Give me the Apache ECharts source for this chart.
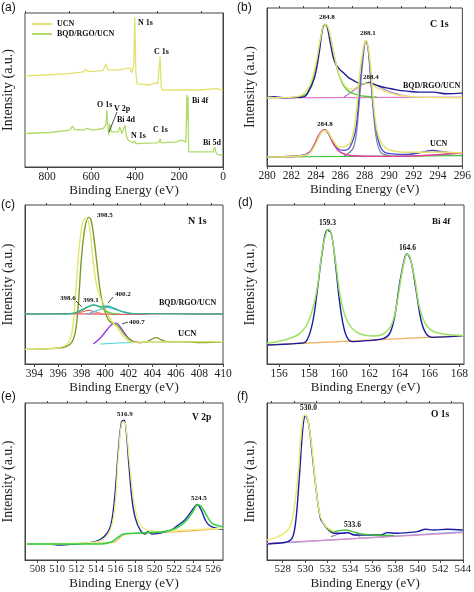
<!DOCTYPE html>
<html><head><meta charset="utf-8">
<script src="https://cdn.jsdelivr.net/npm/echarts@6/dist/echarts.min.js"></script>
<style>html,body{margin:0;padding:0;background:#fff;}#c{width:474px;height:592px;}</style>
</head><body><div id="c"></div>
<script>
// ---------- tick labels ----------
const aTicks = [800,600,400,200,0];
const aMinor = [900,700,500,300,100];
const bTicks = [280,282,284,286,288,290,292,294,296];
const bMinor = [281,283,285,287,289,291,293,295];
const cTicks = [394,396,398,400,402,404,406,408,410];
const cMinor = [395,397,399,401,403,405,407,409];
const dTicks = [156,158,160,162,164,166,168];
const dMinor = [157,159,161,163,165,167];
const eTicks = [508,510,512,514,516,518,520,522,524,526];
const eMinor = [509,511,513,515,517,519,521,523,525];
const fTicks = [528,530,532,534,536,538,540,542,544];
const fMinor = [527,529,531,533,535,537,539,541,543];

// ---------- (a) survey ----------
const a_UCN = [[900,272],[832,274],[711,278],[635,284],[623,292],[613,285],[545,288],[532,308],[523,290],[469,290],[424,296],[414,282],[405,310],[401,448],[396,280],[390,248],[333,245],[306,252],[296,248],[290,300],[286,330],[281,238],[275,230],[106,230],[30,234],[0,230]];
const a_BQD = [[900,100],[787,103],[696,110],[684,122],[675,112],[635,110],[620,115],[590,110],[545,115],[532,125],[528,170],[523,120],[519,95],[514,130],[508,105],[476,105],[469,120],[465,125],[460,100],[451,95],[445,125],[440,95],[431,80],[408,72],[402,78],[396,70],[303,72],[290,75],[286,85],[281,72],[212,75],[189,80],[169,75],[166,150],[164.5,215],[163,140],[161,190],[159,210],[157.5,120],[156,45],[106,45],[45,45],[38,60],[33,45],[27,38],[0,35]];

// ---------- (b) C 1s ----------
const b_upRaw = [[280,206],[280.6,208],[281.3,205],[282.2,206],[282.9,207],[283.3,217],[283.9,267],[284.3,347],[284.5,402],[284.7,425],[284.9,422],[285.2,367],[285.5,317],[285.9,292],[286.3,279],[286.7,265],[287.1,257],[287.5,249],[287.9,247],[288.3,251],[288.7,247],[289.3,239],[289.8,235],[290.6,229],[291.5,225],[292.5,222],[293.6,222],[294.7,217],[296,219]];
const b_upFit = [[280,205],[282.2,207],[282.9,215],[283.5,242],[284.0,307],[284.4,387],[284.7,427],[285.0,417],[285.4,352],[285.8,287],[286.2,252],[286.7,232],[287.1,232],[287.5,242],[288.1,249],[288.5,247],[289.0,235],[289.8,222],[290.9,212],[292.5,207],[296,205]];
const b_upC1 = [[282.5,207],[283.3,220],[284.0,300],[284.4,385],[284.7,425],[285.0,415],[285.4,350],[285.8,285],[286.3,240],[286.8,222],[287.4,214],[288.2,209],[289,207]];
const b_upC2 = [[286.3,207],[287.1,227],[287.8,245],[288.3,249],[289.0,242],[289.8,227],[290.9,214],[292.0,207]];
const b_upBase = [[280,205],[296,207]];
const b_loRaw = [[280,27],[282.8,32],[283.5,42],[284.0,72],[284.4,99],[284.7,109],[285.0,99],[285.4,72],[285.8,52],[286.3,47],[286.8,57],[287.3,117],[287.6,247],[287.9,347],[288.1,377],[288.3,347],[288.6,217],[288.9,117],[289.3,57],[289.8,39],[291.5,35],[292.8,42],[293.5,47],[294.2,42],[295.0,39],[296,37]];
const b_loFit = [[280,27],[282.8,31],[283.5,39],[284.0,67],[284.4,99],[284.7,107],[285.0,102],[285.4,77],[285.9,57],[286.4,59],[286.9,77],[287.3,157],[287.6,277],[287.9,357],[288.1,377],[288.4,327],[288.7,197],[289.0,107],[289.4,67],[290.0,49],[291.7,41],[293.5,42],[296,39]];
const b_loC1 = [[281.4,27],[283.3,35],[283.8,59],[284.3,97],[284.7,109],[285.0,102],[285.4,69],[286.0,42],[287.1,31],[289.5,29],[292.5,31],[296,39]];
const b_loC2 = [[286.3,29],[287.1,57],[287.5,167],[287.8,297],[288.1,375],[288.3,347],[288.6,217],[288.9,97],[289.3,42],[290.1,31]];
const b_loC3 = [[291.5,33],[292.8,42],[293.6,47],[294.4,43],[295.5,38]];
const b_loBase = [[280,27],[296,31]];

// ---------- (c) N 1s ----------
const c_ucnRaw = [[393.2,44],[395.3,46],[396.7,52],[397.2,67],[397.5,102],[397.73,182],[398.0,322],[398.3,412],[398.6,440],[398.8,432],[399.0,392],[399.3,302],[399.57,222],[399.86,172],[400.14,142],[400.42,127],[400.71,122],[400.99,117],[401.27,107],[401.56,92],[401.98,77],[402.41,67],[402.97,64],[403.54,67],[404.11,77],[404.4,79],[404.67,74],[405.24,67],[406.66,67],[408.07,64],[410,67]];
const c_ucnFit = [[393.2,44],[395.3,46],[396.7,57],[397.17,92],[397.45,192],[397.73,322],[398.02,412],[398.3,437],[398.58,427],[398.78,382],[399.0,302],[399.3,232],[399.57,202],[399.86,182],[400.14,157],[400.42,137],[400.71,122],[400.99,112],[401.27,97],[401.56,82],[401.98,70],[402.41,65],[403.54,66],[410,67]];
const c_ucnC2 = [[399.0,60],[399.57,77],[400.14,102],[400.42,114],[400.71,122],[400.99,122],[401.27,112],[401.56,97],[401.98,77],[402.41,67],[403.0,64]];
const c_ucnBase = [[399.6,60],[401,63],[404,66],[410,67]];
const c_bqdBase = [[393.2,150],[396,151],[399,150],[402,149],[405,151],[408,150],[410,150]];
const c_bqdFit = [[393.2,150],[396.74,150],[397.5,154],[398.0,162],[398.58,172],[399.0,177],[399.3,176],[399.57,172],[399.86,172],[400.14,174],[400.42,172],[400.99,164],[401.56,156],[402.41,151],[410,150]];
const c_bqdC1 = [[397.5,150],[398.0,156],[398.6,161],[399.2,156],[399.8,150]];
const c_bqdC2 = [[397.0,150],[397.73,156],[398.3,167],[399.0,177],[399.57,170],[400.14,157],[400.71,151],[401.3,150]];
const c_bqdC3 = [[398.5,150],[399.3,160],[400.2,170],[401.0,162],[401.8,154],[402.5,150]];

// ---------- (d) Bi 4f ----------
const d_fit = [[155.2,62],[156.36,72],[157.23,87],[157.78,112],[158.22,162],[158.55,232],[158.88,342],[159.16,397],[159.29,404],[159.47,392],[159.75,312],[160.04,212],[160.41,142],[160.85,107],[161.39,90],[162.27,84],[162.92,90],[163.47,117],[163.8,172],[164.13,262],[164.35,312],[164.5,329],[164.67,324],[165.0,262],[165.33,172],[165.72,122],[166.21,99],[167.08,89],[168.3,85]];
const d_raw = [[155.2,57],[157.23,62],[157.78,67],[158.22,122],[158.55,222],[158.88,337],[159.2,402],[159.47,392],[159.75,302],[160.04,182],[160.41,92],[160.85,67],[161.83,70],[162.92,76],[163.36,92],[163.69,142],[164.02,242],[164.35,317],[164.5,330],[164.78,307],[165.11,222],[165.44,132],[165.77,92],[166.21,80],[168.3,85]];
const d_base = [[155.2,57],[168.3,85]];

// ---------- (e) V 2p ----------
const e_raw = [[506.9,48],[509.2,48],[510.25,45],[511.9,48],[513.3,52],[514.3,60],[514.98,75],[515.5,105],[515.9,190],[516.3,340],[516.6,415],[516.87,420],[517.07,390],[517.34,290],[517.68,180],[518.02,125],[518.52,90],[519.03,78],[519.3,85],[519.7,78],[520.4,80],[521.06,85],[521.7,90],[522.4,105],[523.08,120],[523.6,140],[524.1,160],[524.37,167],[524.77,150],[525.28,115],[525.8,100],[527,92]];
const e_fit = [[506.9,48],[513.3,52],[515.0,68],[515.8,130],[516.3,320],[516.7,415],[517.0,410],[517.4,300],[517.8,190],[518.2,130],[518.7,100],[519.5,88],[520.5,85],[522,88],[524,92],[527,95]];
const e_green = [[506.9,48],[512,48],[514.5,48],[515.6,55],[516.2,68],[516.8,78],[517.5,80],[519,82],[520.5,84],[521.7,90],[522.5,100],[523.3,120],[523.9,145],[524.4,166],[524.8,160],[525.3,135],[525.9,110],[527,100]];
const e_base = [[506.9,48],[515.6,52],[516.8,75],[517.8,80],[520,83],[523,86],[527,95]];

// ---------- (f) O 1s ----------
const f_raw = [[526.7,48],[527.57,50],[528.46,55],[528.9,70],[529.2,130],[529.5,260],[529.8,400],[530.02,432],[530.29,410],[530.58,330],[530.97,210],[531.35,125],[531.7,105],[532.0,92],[532.6,80],[533.18,80],[533.77,82],[534.36,75],[535.54,75],[536.7,75],[537.3,82],[538.2,80],[539.08,82],[539.96,85],[540.7,92],[541.44,90],[542.62,92],[544,90]];
const f_fit = [[526.6,60],[527.57,70],[528.46,90],[528.9,130],[529.34,250],[529.64,380],[529.93,435],[530.2,425],[530.58,340],[530.97,210],[531.35,130],[531.85,100],[532.6,85]];
const f_green = [[531.85,100],[532.44,85],[533.03,88],[533.62,90],[534.2,85],[534.95,78],[536.1,75],[537.9,73]];
const f_pink = [[526.6,50],[544,82]];
const f_blue = [[528.5,52],[544,84]];
const f_comp = [[532.3,70],[533.0,78],[533.6,82],[534.2,78],[534.9,71]];

// ---------- layout ----------
const SERIF = 'Liberation Serif';
const grids = [
  {left:25, top:13, width:198, height:154},
  {left:267, top:8, width:197, height:158},
  {left:25, top:205, width:198, height:159},
  {left:267, top:205, width:197, height:159},
  {left:25, top:403, width:198, height:157},
  {left:267, top:403, width:198, height:157}
];
const xr = [
  {min:0, max:900, inverse:true, t:aTicks, m:aMinor, fs:11.5},
  {min:280, max:296, t:bTicks, m:bMinor, fs:11.5},
  {min:393.2, max:410, t:cTicks, m:cMinor, fs:11.5},
  {min:155.2, max:168.3, t:dTicks, m:dMinor, fs:11.5},
  {min:506.7, max:527, t:eTicks, m:eMinor, fs:10.5},
  {min:526.6, max:544.05, t:fTicks, m:fMinor, fs:11}
];
const ymax = [460, 475, 477, 477, 472, 470];

const xAxis = [], yAxis = [];
xr.forEach((r,i)=>{
  xAxis.push({type:'value', gridIndex:i, min:r.min, max:r.max, inverse:!!r.inverse,
    name:'Binding Energy (eV)', nameLocation:'middle', nameGap:17,
    nameTextStyle:{fontFamily:SERIF, fontSize:13, color:'#222'},
    axisLine:{show:true, lineStyle:{color:'#444', width:1}},
    splitLine:{show:false},
    axisTick:{show:true, customValues:r.t, length:3, lineStyle:{color:'#444'}},
    axisLabel:{customValues:r.t, fontFamily:SERIF, fontSize:r.fs, color:'#222', margin:4}});
});
xr.forEach((r,i)=>{
  xAxis.push({type:'value', gridIndex:i, min:r.min, max:r.max, inverse:!!r.inverse,
    axisLine:{show:false}, splitLine:{show:false}, axisLabel:{show:false},
    axisTick:{show:true, customValues:r.m, length:2, lineStyle:{color:'#444'}}});
});
ymax.forEach((m,i)=>{
  yAxis.push({type:'value', gridIndex:i, min:0, max:m,
    name:'Intensity (a.u.)', nameLocation:'middle', nameGap:10,
    nameTextStyle:{fontFamily:SERIF, fontSize:14, color:'#222'},
    axisLine:{show:true, lineStyle:{color:'#444'}}, axisTick:{show:false},
    axisLabel:{show:false}, splitLine:{show:false}});
});

const series = [];
function L(name, gi, data, color, w, smooth){
  series.push({type:'line', name:name, xAxisIndex:gi, yAxisIndex:gi, data:data,
    showSymbol:false, symbol:'none', smooth:smooth===undefined?0.35:smooth, silent:true,
    lineStyle:{color:color, width:w||1.3}, itemStyle:{color:color}, animation:false});
}
// (a)
L('UCN',0,a_UCN,'#e2e26e',1.3,false);
L('BQD/RGO/UCN',0,a_BQD,'#aedb6a',1.3,false);
// (b)
L('b1',1,b_upBase,'#e27ad8',1.2);
L('b2',1,b_upC2,'#b07ac8',1.2);
L('b3',1,b_upC1,'#55c83a',1.3);
L('b4',1,b_upRaw,'#1e1e96',1.4);
L('b5',1,b_upFit,'#e6e672',1.4);
L('b6',1,b_loBase,'#3cc23c',1.2);
L('b7',1,b_loC3,'#8466d0',1.2);
L('b8',1,b_loC2,'#7d86a8',1.3);
L('b9',1,b_loRaw,'#4646dc',1.3);
L('b10',1,b_loC1,'#e03c9c',1.4);
L('b11',1,b_loFit,'#e6e266',1.5);
// (c)
L('c1',2,c_ucnBase,'#48d0e0',1.2);
L('c2',2,c_ucnC2,'#9040e0',1.4);
L('c3',2,c_ucnRaw,'#7d9a2c',1.4);
L('c4',2,c_ucnFit,'#e4e46a',1.4);
L('c5',2,c_bqdBase,'#e8606c',1.3);
L('c6',2,c_bqdC1,'#f07070',1.2);
L('c7',2,c_bqdC3,'#50c0e0',1.2);
L('c8',2,c_bqdC2,'#62c244',1.2);
L('c9',2,c_bqdFit,'#34b094',1.4);
// (d)
L('d1',3,d_base,'#f0b468',1.3);
L('d2',3,d_raw,'#1c1ca0',1.4);
L('d3',3,d_fit,'#9ce264',1.5);
// (e)
L('e1',4,e_base,'#f0b454',1.2);
L('e2',4,e_raw,'#1c2a9c',1.4);
L('e3',4,e_fit,'#f0f08a',1.4);
L('e4',4,e_green,'#32d23e',1.5);
// (f)
L('f1',5,f_blue,'#66b4e4',1.2);
L('f2',5,f_pink,'#e48ac8',1.2);
L('f3',5,f_comp,'#9a70c8',1.1);
L('f4',5,f_raw,'#1c1ca0',1.4);
L('f5',5,f_green,'#40c040',1.4);
L('f6',5,f_fit,'#e8ea74',1.5);

function T(txt, x, y, size, weight, family){
  return {type:'text', x:x, y:y, silent:true, z:100,
    style:{text:txt, x:0, y:0, fill:'#111',
      font:(weight||'bold')+' '+size+'px '+(family||'"Liberation Serif"'),
      textAlign:'left', textVerticalAlign:'middle', align:'left', verticalAlign:'middle'}};
}
function Ln(x1,y1,x2,y2){
  return {type:'line', silent:true, z:100, shape:{x1:x1,y1:y1,x2:x2,y2:y2}, style:{stroke:'#222', lineWidth:0.8}};
}
const SANS = '"Liberation Sans"';
const graphic = [
  T('(a)',1,8,12,'normal',SANS), T('(b)',237,8,12,'normal',SANS),
  T('(c)',1,205,12,'normal',SANS), T('(d)',238,203,12,'normal',SANS),
  T('(e)',1,397,12,'normal',SANS), T('(f)',237,397,12,'normal',SANS),
  // a
  T('N 1s',138,23,8), T('C 1s',154,52,8), T('O 1s',97,105,8), T('V 2p',114,109,8),
  Ln(117,112,109,132), T('Bi 4d',117,120,8), T('N 1s',131,136,8), T('C 1s',153,130,8),
  T('Bi 4f',192,101,8), T('Bi 5d',203,143,8),
  // b
  T('284.8',319,17,7), T('288.1',360,33,7), T('288.4',363,77,7),
  T('BQD/RGO/UCN',403,86,8), T('284.8',317,124,7), T('UCN',430,144,8), T('C 1s',430,24,10),
  // c
  T('398.5',97,215,7), T('N 1s',188,221,10), T('398.6',60,298,7), T('399.1',83,300,7),
  T('400.2',115,294,7), T('BQD/RGO/UCN',159,303,8), T('400.7',129,322,7), T('UCN',178,334,8.5),
  Ln(76,301,82,307), Ln(113,297,108,303), Ln(128,322,122,324),
  // d
  T('159.3',319,223,7.5), T('164.6',399,248,7.5), T('Bi 4f',432,222,9),
  // e
  T('516.9',117,414,7), T('V 2p',192,418,9.5), T('524.5',191,498,7),
  // f
  T('530.0',300,408,7.5), T('O 1s',431,415,9.5), T('533.6',344,525,7.5)
];

const chart = echarts.init(document.getElementById('c'), null, {renderer:'canvas'});
chart.setOption({
  animation:false,
  backgroundColor:'#fff',
  grid: grids.map(g=>Object.assign({show:true, borderColor:'#444', borderWidth:1, backgroundColor:'transparent', containLabel:false}, g)),
  xAxis:xAxis, yAxis:yAxis, series:series,
  legend:{data:['UCN','BQD/RGO/UCN'], orient:'vertical', left:27, top:15, itemWidth:20, itemHeight:2,
    itemGap:2, icon:'rect', selectedMode:false,
    textStyle:{fontFamily:SERIF, fontWeight:'bold', fontSize:8, color:'#111'}},
  graphic:graphic
});
</script></body></html>
